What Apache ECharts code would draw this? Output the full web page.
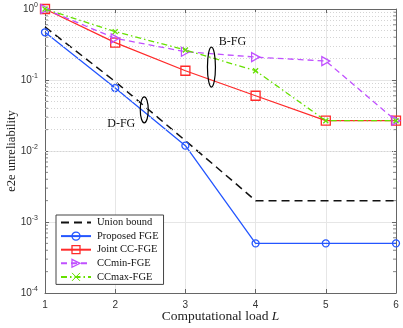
<!DOCTYPE html>
<html>
<head>
<meta charset="utf-8">
<script src="https://cdn.jsdelivr.net/npm/echarts@6/dist/echarts.min.js"></script>
<style>
  html, body { margin: 0; padding: 0; background: #fff; }
  #chart { width: 403px; height: 328px; }
</style>
</head>
<body>
<div id="chart"></div>
<script>
// computational load L
const loads = [1, 2, 3, 4, 5, 6];
// e2e unreliability per scheme
const unionBound = [0.56, 0.095, 0.014, 0.002, 0.002, 0.002];
const proposedFGE = [0.47, 0.077, 0.0119, 0.0005, 0.0005, 0.0005];
const jointCCFGE = [1.0, 0.336, 0.135, 0.060, 0.0267, 0.0267];
const ccMinFGE = [1.0, 0.386, 0.25, 0.21, 0.185, 0.0267];
const ccMaxFGE = [1.0, 0.48, 0.265, 0.135, 0.0267, 0.0267];
// minor log grid
const decades = [1e-4, 1e-3, 1e-2, 1e-1];
const minorSteps = [2, 3, 4, 5, 6, 7, 8, 9];

const minorVals = [];
decades.forEach(d => minorSteps.forEach(m => minorVals.push(+(d * m).toPrecision(3))));

const serif = 'Liberation Serif';
const sans = 'Liberation Sans';
const axisCol = '#666';

const blue = '#2456ff', red = '#ff2a2a', purple = '#c050ff', green = '#66e000';

function pairs(ys) {
  return loads.map((x, i) => [x, ys[i]]);
}

function hollow(col) {
  return { color: 'rgba(255,255,255,0)', borderColor: col, borderWidth: 1.3 };
}

const chart = echarts.init(document.getElementById('chart'));

chart.setOption({
  animation: false,
  grid: { left: 45, right: 7, top: 9, bottom: 35, outerBoundsMode: 'none' },
  xAxis: [{
    type: 'value',
    min: 1, max: 6, interval: 1,
    name: 'Computational load {i|L}',
    nameLocation: 'middle',
    nameMoveOverlap: false,
    nameGap: 16,
    nameTextStyle: {
      fontFamily: serif, fontSize: 13.5, color: '#222',
      rich: { i: { fontFamily: serif, fontStyle: 'italic', fontSize: 13.5, color: '#222' } }
    },
    axisLine: { lineStyle: { color: axisCol } },
    axisTick: { inside: true, length: 4, lineStyle: { color: axisCol } },
    axisLabel: { margin: 7, fontFamily: sans, fontSize: 10, color: '#333' },
    splitLine: { lineStyle: { color: '#e6e6e6' } }
  }, {
    type: 'value', position: 'top',
    min: 1, max: 6, interval: 1,
    axisLine: { show: true, lineStyle: { color: axisCol } },
    axisTick: { inside: true, length: 4, lineStyle: { color: axisCol } },
    axisLabel: { show: false },
    splitLine: { show: false }
  }],
  yAxis: [{
    type: 'log', logBase: 10,
    min: 1e-4, max: 1,
    name: 'e2e unreliability',
    nameLocation: 'middle',
    nameMoveOverlap: false,
    nameGap: 27,
    nameTextStyle: { fontFamily: serif, fontSize: 12.5, color: '#222' },
    axisLine: { show: true, lineStyle: { color: axisCol } },
    axisTick: { inside: true, length: 4, lineStyle: { color: axisCol } },
    axisLabel: {
      margin: 7,
      formatter: v => '{b|10}{s|' + Math.round(Math.log10(v)) + '}',
      rich: {
        b: { fontFamily: sans, fontSize: 10, color: '#333' },
        s: { fontFamily: sans, fontSize: 7, color: '#333', padding: [0, 0, 8, 0] }
      }
    },
    splitLine: { lineStyle: { color: '#e6e6e6' } }
  }, {
    type: 'log', logBase: 10, position: 'right',
    min: 1e-4, max: 1,
    axisLine: { show: true, lineStyle: { color: axisCol } },
    axisTick: { inside: true, length: 4, lineStyle: { color: axisCol } },
    axisLabel: { show: false },
    splitLine: { show: false }
  }],
  legend: {
    orient: 'vertical',
    left: 56, top: 215,
    padding: [2, 5, 2, 4],
    itemWidth: 30, itemHeight: 10, itemGap: 2.6,
    backgroundColor: '#fff',
    borderColor: '#444', borderWidth: 1, borderRadius: 0,
    textStyle: { fontFamily: serif, fontSize: 10.5, lineHeight: 10, color: '#111', padding: [0, 0, 0, 1] },
    data: [
      { name: 'Union bound', itemStyle: { opacity: 0 } },
      { name: 'Proposed FGE', itemStyle: hollow(blue) },
      { name: 'Joint CC-FGE', itemStyle: hollow(red) },
      { name: 'CCmin-FGE', itemStyle: hollow(purple) },
      { name: 'CCmax-FGE', itemStyle: { color: 'rgba(255,255,255,0)', borderColor: green, borderWidth: 1 } }
    ]
  },
  series: [
    {
      name: 'minor grid', type: 'line', data: [], silent: true,
      markLine: {
        silent: true, symbol: 'none', label: { show: false },
        lineStyle: { color: '#d4d4d4', width: 1, type: [1, 2] },
        data: minorVals.map(v => ({ yAxis: v }))
      }
    },
    {
      name: 'minor left', type: 'scatter', silent: true,
      data: minorVals.map(v => [1, v]),
      symbol: 'rect', symbolSize: [3, 1], symbolOffset: [1.5, 0],
      itemStyle: { color: axisCol }
    },
    {
      name: 'minor right', type: 'scatter', silent: true,
      data: minorVals.map(v => [6, v]),
      symbol: 'rect', symbolSize: [3, 1], symbolOffset: [-1.5, 0],
      itemStyle: { color: axisCol }
    },
    {
      name: 'Union bound', type: 'line', data: pairs(unionBound),
      symbol: 'none', z: 3,
      lineStyle: { color: '#111', width: 1.5, type: [8, 5] },
      itemStyle: { color: '#111' }
    },
    {
      name: 'Proposed FGE', type: 'line', data: pairs(proposedFGE),
      symbol: 'circle', symbolSize: 7, showAllSymbol: true, z: 4,
      lineStyle: { color: blue, width: 1.3 },
      itemStyle: hollow(blue)
    },
    {
      name: 'Joint CC-FGE', type: 'line', data: pairs(jointCCFGE),
      symbol: 'rect', symbolSize: 9, z: 5,
      lineStyle: { color: red, width: 1.3 },
      itemStyle: hollow(red)
    },
    {
      name: 'CCmin-FGE', type: 'line', data: pairs(ccMinFGE),
      symbol: 'path://M0,0L10,5L0,10Z', symbolSize: [8, 9], z: 6,
      lineStyle: { color: purple, width: 1.3, type: [6, 4] },
      itemStyle: hollow(purple)
    },
    {
      name: 'CCmax-FGE', type: 'line', data: pairs(ccMaxFGE),
      symbol: 'path://M0,0L10,10M10,0L0,10', symbolSize: 5, z: 7,
      lineStyle: { color: green, width: 1.3, type: [6, 3, 1.5, 3] },
      itemStyle: hollow(green)
    }
  ]
});

// ellipse + text annotations, anchored to data coordinates
function annotate(label, at, textAt, ry) {
  const c = chart.convertToPixel({ xAxisIndex: 0, yAxisIndex: 0 }, at);
  const t = chart.convertToPixel({ xAxisIndex: 0, yAxisIndex: 0 }, textAt);
  return [{
    type: 'ellipse', z: 100,
    shape: { cx: c[0], cy: c[1], rx: 4, ry: ry },
    style: { fill: 'none', stroke: '#000', lineWidth: 1.2 }
  }, {
    type: 'text', z: 100, x: t[0], y: t[1],
    style: { text: label, font: '12px ' + serif, fill: '#111', align: 'center', verticalAlign: 'middle' }
  }];
}

chart.setOption({
  graphic: [
    ...annotate('D-FG', [2.414, 0.038], [2.086, 0.024], 13),
    ...annotate('B-FG', [3.371, 0.152], [3.671, 0.343], 20)
  ]
});
</script>
</body>
</html>
